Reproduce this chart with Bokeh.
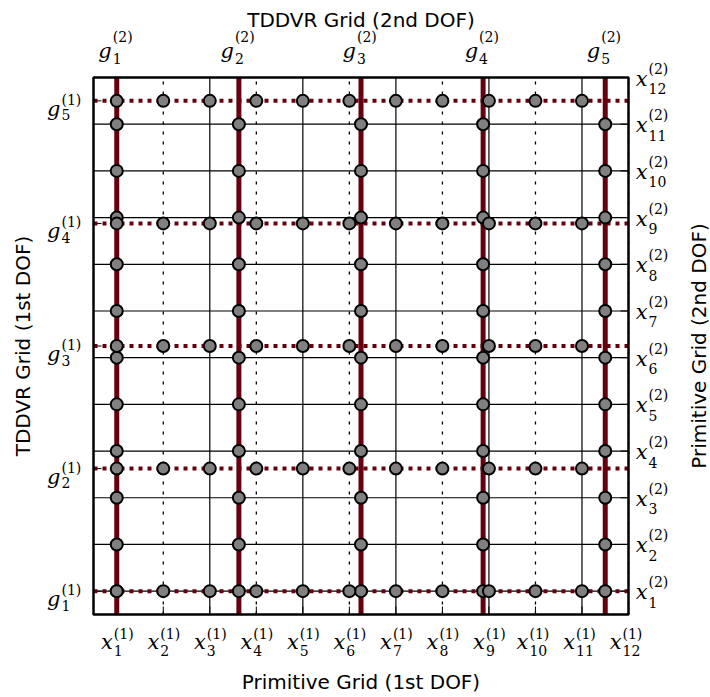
from math import pi

from bokeh.core.properties import value
from bokeh.embed import file_html
from bokeh.models import Label, Range1d
from bokeh.plotting import figure
from bokeh.resources import INLINE

# Primitive grid points of both degrees of freedom
prim_1 = [1, 2, 3, 4, 5, 6, 7, 8, 9, 10, 11, 12]   # along x (1st DOF)
prim_2 = [1, 2, 3, 4, 5, 6, 7, 8, 9, 10, 11, 12]   # along y (2nd DOF)
prim_1_sub = ["1", "2", "3", "4", "5", "6", "7", "8", "9", "10", "11", "12"]
prim_2_sub = ["1", "2", "3", "4", "5", "6", "7", "8", "9", "10", "11", "12"]

# TDDVR grid points: 2nd DOF along x, 1st DOF along y
tddvr_2 = [1.0, 3.625, 6.25, 8.875, 11.5]
tddvr_1 = [1.0, 3.625, 6.25, 8.875, 11.5]
tddvr_2_sub = ["1", "2", "3", "4", "5"]
tddvr_1_sub = ["1", "2", "3", "4", "5"]

# data window of the grid box and the page margins around it (pixels)
LO, HI = 0.5, 12.0
W, H = 710, 697
M_LEFT, M_RIGHT, M_TOP, M_BOTTOM = 93, 82, 77, 83
ppu_x = (W - M_LEFT - M_RIGHT) / (HI - LO)
ppu_y = (H - M_TOP - M_BOTTOM) / (HI - LO)

DARK_RED = "#66000f"
MATH_FONT = "DejaVu Serif"
BASE_SIZE = "21px"
SCRIPT_SIZE = "14px"

p = figure(
    frame_width=W, frame_height=H,
    x_range=Range1d(LO - M_LEFT / ppu_x, HI + M_RIGHT / ppu_x),
    y_range=Range1d(LO - M_BOTTOM / ppu_y, HI + M_TOP / ppu_y),
    x_axis_location=None, y_axis_location=None,
    output_backend="svg", toolbar_location=None,
    min_border=0, outline_line_color=None,
    background_fill_color="white", border_fill_color="white",
)
p.xgrid.visible = False
p.ygrid.visible = False

# primitive grid lines
p.segment(x0=LO, y0=prim_2, x1=HI, y1=prim_2, line_color="black", line_width=1.2)
p.segment(x0=prim_1[0::2], y0=LO, x1=prim_1[0::2], y1=HI, line_color="black", line_width=1.2)
p.segment(x0=prim_1[1::2], y0=LO, x1=prim_1[1::2], y1=HI, line_color="black",
          line_width=1.3, line_dash="3 7")

# inward tick marks on the four sides of the box
tick = dict(length=8, length_units="screen", line_color="black", line_width=1)
p.ray(x=prim_1, y=LO, angle=pi / 2, **tick)
p.ray(x=tddvr_2, y=HI, angle=-pi / 2, **tick)
p.ray(x=LO, y=tddvr_1, angle=0, **tick)
p.ray(x=HI, y=prim_2, angle=pi, **tick)

# TDDVR grid lines
p.segment(x0=tddvr_2, y0=LO, x1=tddvr_2, y1=HI, line_color=DARK_RED, line_width=5)
p.segment(x0=LO, y0=tddvr_1, x1=HI, y1=tddvr_1, line_color=DARK_RED,
          line_width=4, line_dash="4 5")

# points where the TDDVR lines cross the primitive grid
row_x = [x for g in tddvr_1 for x in prim_1[:-1]]
row_y = [g for g in tddvr_1 for x in prim_1[:-1]]
col_x = [g for g in tddvr_2 for y in prim_2[:-1]]
col_y = [y for g in tddvr_2 for y in prim_2[:-1]]
dot_style = dict(marker="circle", size=12, fill_color="#808080", line_color="black", line_width=2)
p.scatter(x=col_x, y=col_y, **dot_style)
p.scatter(x=row_x, y=row_y, **dot_style)

# box frame
p.quad(left=LO, right=HI, bottom=LO, top=HI, fill_color=None,
       line_color="black", line_width=2.5)


def math_labels(xs, ys, base, subs, sup, dx, base_dy, sub_dy, sup_dy, centred=True):
    """Base letter with a stacked subscript and superscript; offsets in pixels."""
    n = len(xs)
    shift = [dx - (3 if len(s) > 1 and centred else 0) for s in subs]
    bx = [x + s / ppu_x for x, s in zip(xs, shift)]
    sx = [x + (s + 1) / ppu_x for x, s in zip(xs, shift)]
    common = dict(text_color="black", text_font=value(MATH_FONT),
                  text_baseline="alphabetic")
    p.text(x=bx, y=[y + base_dy / ppu_y for y in ys], text=[base] * n, text_align="right",
           text_font_size=value(BASE_SIZE), text_font_style="italic", **common)
    p.text(x=sx, y=[y + sub_dy / ppu_y for y in ys], text=subs, text_align="left",
           text_font_size=value(SCRIPT_SIZE), **common)
    p.text(x=sx, y=[y + sup_dy / ppu_y for y in ys], text=[sup] * n, text_align="left",
           text_font_size=value(SCRIPT_SIZE), **common)


# bottom: primitive grid of the 1st DOF
math_labels(prim_1, [LO] * len(prim_1), "x", prim_1_sub, "(1)", -4, -27, -36, -19)
# top: TDDVR grid of the 2nd DOF
math_labels(tddvr_2, [HI] * len(tddvr_2), "g", tddvr_2_sub, "(2)", -5, 27, 19, 41)
# left: TDDVR grid of the 1st DOF
math_labels([LO] * len(tddvr_1), tddvr_1, "g", tddvr_1_sub, "(1)", -33, -8, -14, 1)
# right: primitive grid of the 2nd DOF
math_labels([HI] * len(prim_2), prim_2, "x", prim_2_sub, "(2)", 19, -1, -11, 9, centred=False)

# axis titles
mid = (LO + HI) / 2
title_style = dict(text_font="DejaVu Sans", text_font_size="20px", text_color="black",
                   text_align="center")
p.add_layout(Label(x=mid, y=HI, y_offset=58, text="TDDVR Grid (2nd DOF)",
                   text_baseline="alphabetic", **title_style))
p.add_layout(Label(x=mid, y=LO, y_offset=-67, text="Primitive Grid (1st DOF)",
                   text_baseline="alphabetic", **title_style))
p.add_layout(Label(x=LO, y=mid, x_offset=-71, angle=pi / 2, text="TDDVR Grid (1st DOF)",
                   text_baseline="middle", **title_style))
p.add_layout(Label(x=HI, y=mid, x_offset=70, angle=pi / 2, text="Primitive Grid (2nd DOF)",
                   text_baseline="middle", **title_style))

open("out.html", "w").write(file_html(p, INLINE))
